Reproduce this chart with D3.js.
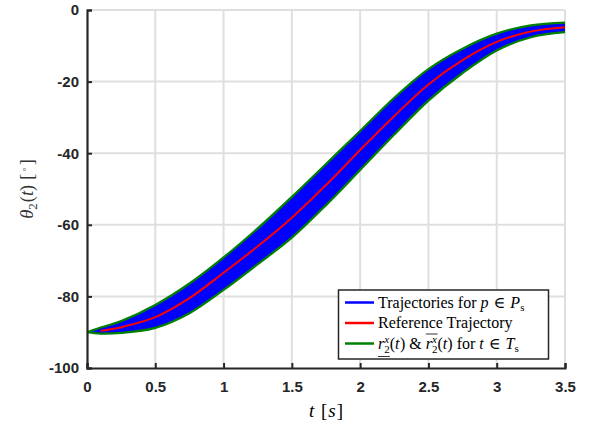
<!DOCTYPE html>
<html>
<head>
<meta charset="utf-8">
<script src="https://cdn.jsdelivr.net/npm/d3@7"></script>
<style>
  body { margin: 0; background: #fff; }
  svg { display: block; }
  svg text { white-space: pre; }
</style>
</head>
<body>
<script>
// values
const tVals = [0, 0.1, 0.25, 0.5, 0.75, 1, 1.25, 1.5, 1.75, 2, 2.25, 2.5, 2.75, 3, 3.25, 3.5];
const refTraj = [-90, -89.6, -88.6, -85.8, -80.5, -73.4, -66.0, -58.0, -48.9, -39.1, -29.6, -20.8, -14.0, -8.9, -6.0, -4.8];
const upperBound = [-90, -88.7, -86.9, -82.4, -76.4, -69.1, -61.0, -52.2, -43.0, -33.8, -24.5, -16.5, -10.8, -6.6, -4.3, -3.5];
const lowerBound = [-90, -90.4, -90.2, -88.8, -84.7, -78.2, -71.0, -63.6, -54.5, -44.7, -34.8, -25.3, -17.6, -11.3, -7.6, -6.2];
const xTicks = [0, 0.5, 1, 1.5, 2, 2.5, 3, 3.5];
const yTicks = [0, -20, -40, -60, -80, -100];

const W = 592, H = 430;
const m = {left: 87, right: 27, top: 10, bottom: 62};
const serif = "'Liberation Serif', 'DejaVu Serif', serif";
const sans = "'Liberation Sans', Arial, Helvetica, sans-serif";
const axisCol = "#262626";

const svg = d3.select("body").append("svg").attr("width", W).attr("height", H);

const x = d3.scaleLinear().domain([0, 3.5]).range([m.left, W - m.right]);
const y = d3.scaleLinear().domain([-100, 0]).range([H - m.bottom, m.top]);

// grid
const grid = svg.append("g").attr("stroke", "#dfdfdf").attr("stroke-width", 2);
grid.selectAll("line.gx").data(xTicks.slice(1)).enter().append("line")
    .attr("x1", d => x(d)).attr("x2", d => x(d))
    .attr("y1", y(-100)).attr("y2", y(0));
grid.selectAll("line.gy").data(yTicks.slice(0, -1)).enter().append("line")
    .attr("y1", d => y(d)).attr("y2", d => y(d))
    .attr("x1", x(0)).attr("x2", x(3.5));

// band
const pts = tVals.map((t, i) => ({t: t, r: refTraj[i], hi: upperBound[i], lo: lowerBound[i]}));
const curve = d3.curveCatmullRom;
svg.append("path").datum(pts)
    .attr("fill", "#0000ff")
    .attr("d", d3.area().curve(curve).x(d => x(d.t)).y0(d => y(d.lo)).y1(d => y(d.hi)));
["hi", "lo"].forEach(k => {
  svg.append("path").datum(pts)
      .attr("fill", "none").attr("stroke", "#008000").attr("stroke-width", 2.2)
      .attr("d", d3.line().curve(curve).x(d => x(d.t)).y(d => y(d[k])));
});
svg.append("path").datum(pts.filter(d => d.t > 0))
    .attr("fill", "none").attr("stroke", "#ff0000").attr("stroke-width", 2)
    .attr("d", d3.line().curve(curve).x(d => x(d.t)).y(d => y(d.r)));

// axes
const xAxis = svg.append("g").attr("transform", `translate(0,${y(-100)})`)
    .call(d3.axisBottom(x).tickValues(xTicks).tickSize(-5).tickPadding(10).tickFormat(d => String(d)));
const yAxis = svg.append("g").attr("transform", `translate(${x(0)},0)`)
    .call(d3.axisLeft(y).tickValues(yTicks).tickSize(-5).tickPadding(8).tickFormat(d => String(d)));
[xAxis, yAxis].forEach(a => {
  a.select(".domain").attr("stroke", axisCol).attr("stroke-width", 2.2);
  a.selectAll(".tick line").attr("stroke", axisCol).attr("stroke-width", 2);
  a.selectAll(".tick text").attr("fill", axisCol)
      .style("font-family", sans).style("font-size", "15px").style("font-weight", "bold");
});
xAxis.selectAll(".tick text").attr("dy", "0.9em");

// simple math typesetting helper
function mathRow(g, x0, yb, parts, anchor, base) {
  const row = g.append("g");
  let cx = x0, lastStart = x0;
  const ext = {u: [Infinity, -Infinity], o: [Infinity, -Infinity]};
  parts.forEach(p => {
    const size = p.size || base || 16;
    const start = (p.stack ? lastStart : cx) + (p.dx || 0);
    const el = row.append("text")
        .attr("x", start).attr("y", yb + (p.dy || 0))
        .style("font-family", serif).style("font-size", size + "px")
        .style("font-style", p.it ? "italic" : "normal")
        .attr("fill", "#000")
        .text(p.s);
    const w = el.node().getComputedTextLength();
    if (p.stack) cx = Math.max(cx, start + w);
    else { lastStart = start; cx = start + w; }
    ["u", "o"].forEach(k => {
      if (p[k]) { ext[k][0] = Math.min(ext[k][0], start); ext[k][1] = Math.max(ext[k][1], start + w); }
    });
  });
  if (ext.u[0] < Infinity) row.append("line").attr("x1", ext.u[0]).attr("x2", ext.u[1])
      .attr("y1", yb + 8).attr("y2", yb + 8).attr("stroke", "#000").attr("stroke-width", 0.8);
  if (ext.o[0] < Infinity) row.append("line").attr("x1", ext.o[0]).attr("x2", ext.o[1])
      .attr("y1", yb - 14.5).attr("y2", yb - 14.5).attr("stroke", "#000").attr("stroke-width", 0.8);
  if (anchor === "middle") row.attr("transform", `translate(${-(cx - x0) / 2},0)`);
  return row;
}

// axis labels
mathRow(svg, 326, 417, [
  {s: "t", it: true}, {s: " [", dx: 2}, {s: "s", it: true, dx: 1}, {s: "]", dx: 1}
], "middle", 19);

const yl = svg.append("g").attr("transform", `translate(33,${(y(0) + y(-100)) / 2}) rotate(-90)`);
mathRow(yl, 0, 0, [
  {s: "θ", it: true}, {s: "2", size: 13, dy: 4}, {s: "(", dx: 1},
  {s: "t", it: true}, {s: ")"}, {s: "[", dx: 5}, {s: "◦", size: 12, dy: -5, dx: 2}, {s: "]", dx: 2}
], "middle", 18.5);
yl.selectAll("text").attr("fill", "#333");

// legend
const legendItems = [
  {color: "#0000ff", parts: [{s: "Trajectories for "}, {s: "p", it: true}, {s: " ∈ ", dx: 1}, {s: "P", it: true, dx: 1}, {s: "s", size: 11, dy: 3}]},
  {color: "#ff0000", parts: [{s: "Reference Trajectory"}]},
  {color: "#008000", parts: [
    {s: "r", it: true, u: true}, {s: "x", it: true, size: 11, dy: -6}, {s: "2", size: 11, dy: 4, stack: true, u: true},
    {s: "("}, {s: "t", it: true}, {s: ") & ", dx: 0.5},
    {s: "r", it: true, o: true}, {s: "x", it: true, size: 11, dy: -6, o: true}, {s: "2", size: 11, dy: 4, stack: true, o: true},
    {s: "("}, {s: "t", it: true}, {s: ") for "}, {s: "t", it: true}, {s: " ∈ ", dx: 1}, {s: "T", it: true, dx: 1}, {s: "s", size: 11, dy: 3}
  ]}
];
const lg = svg.append("g");
lg.append("rect").attr("x", 338.5).attr("y", 290).attr("width", 210).attr("height", 69)
    .attr("fill", "#fff").attr("stroke", axisCol).attr("stroke-width", 1.5);
legendItems.forEach((it, i) => {
  const cy = 302.5 + i * 20.5;
  lg.append("line").attr("x1", 345).attr("x2", 374).attr("y1", cy).attr("y2", cy)
      .attr("stroke", it.color).attr("stroke-width", 2.5);
  mathRow(lg, 378, cy + 5, it.parts, null, 16);
});
</script>
</body>
</html>
